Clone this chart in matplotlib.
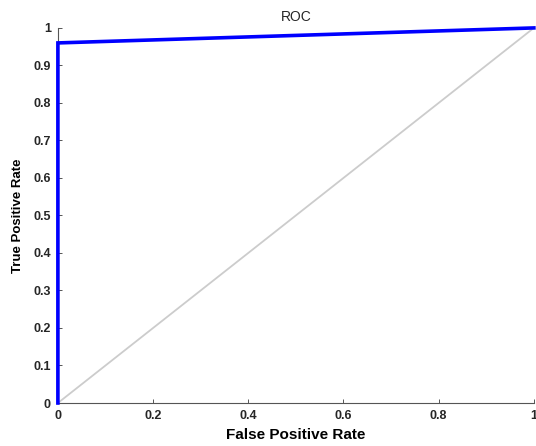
import matplotlib
matplotlib.use('Agg')
import matplotlib.pyplot as plt

fpr = [0, 0, 1]
tpr = [0, 0.96, 1]
chance = [0, 1]
ticks_x = [0, 0.2, 0.4, 0.6, 0.8, 1]
ticks_y = [0, 0.1, 0.2, 0.3, 0.4, 0.5, 0.6, 0.7, 0.8, 0.9, 1]

plt.rcParams['font.family'] = ['Liberation Sans', 'DejaVu Sans']

fig = plt.figure(figsize=(5.36, 4.46), dpi=100)
ax = fig.add_axes([0.108, 0.0964, 0.888, 0.841])

ax.plot(chance, chance, color='#cccccc', lw=1.3, zorder=1)
ax.plot(fpr, tpr, color='#0000ff', lw=2.6, zorder=5, clip_on=False,
        solid_joinstyle='miter')

ax.set_xlim(0, 1)
ax.set_ylim(0, 1)
ax.set_xticks(ticks_x)
ax.set_xticklabels([f'{t:g}' for t in ticks_x])
ax.set_yticks(ticks_y)
ax.set_yticklabels([f'{t:g}' for t in ticks_y])
for s in ['top', 'right']:
    ax.spines[s].set_visible(False)
for s in ['left', 'bottom']:
    ax.spines[s].set_color('#555555')
    ax.spines[s].set_linewidth(0.8)
ax.tick_params(direction='in', length=3, width=0.7, color='#555555',
               labelsize=9, labelcolor='#262626', pad=5)
for lab in ax.get_xticklabels() + ax.get_yticklabels():
    lab.set_fontweight('bold')

ax.set_title('ROC', fontsize=10, color='#262626', pad=5)
ax.set_xlabel('False Positive Rate', fontsize=11, fontweight='bold', labelpad=4)
ax.set_ylabel('True Positive Rate', fontsize=9.5, fontweight='bold', labelpad=7)

fig.savefig('out.png', dpi=100)
